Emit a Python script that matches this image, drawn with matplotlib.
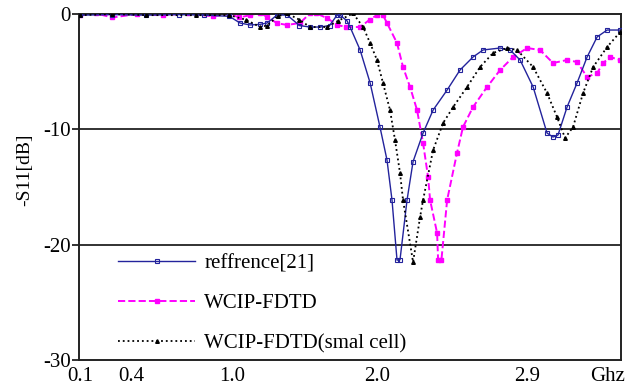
import matplotlib
matplotlib.use("Agg")
import matplotlib.pyplot as plt

plt.rcParams['font.family'] = ['Liberation Serif', 'DejaVu Serif']

# ---- data ----
ref_x = [0.106, 0.30, 0.50, 0.70, 0.85, 1.00, 1.064, 1.124, 1.184, 1.226, 1.286, 1.346,
         1.42, 1.483, 1.543, 1.60, 1.645, 1.663, 1.705, 1.723, 1.783, 1.843, 1.902,
         1.944, 1.974, 2.004, 2.022, 2.064, 2.10, 2.16, 2.22, 2.304, 2.381, 2.459,
         2.519, 2.621, 2.681, 2.741, 2.819, 2.902, 2.938, 2.968, 3.022, 3.082, 3.142,
         3.202, 3.262, 3.34]
ref_y = [-0.1, -0.05, -0.1, -0.05, -0.1, -0.2, -0.78, -0.95, -0.9, -0.78, -0.09, -0.09,
         -1.0, -1.13, -1.13, -1.0, -0.1, -0.1, -0.6, -1.13, -3.12, -5.98, -9.8,
         -12.66, -16.13, -21.34, -21.3, -16.13, -12.8, -10.32, -8.33, -6.59, -4.86, -3.73,
         -3.12, -2.95, -3.12, -3.99, -6.33, -10.32, -10.67, -10.49, -8.07, -5.98, -3.73,
         -1.99, -1.39, -1.39]

wcip_x = [0.106, 0.20, 0.30, 0.45, 0.60, 0.75, 0.90, 1.00, 1.06, 1.124, 1.184, 1.226,
          1.286, 1.346, 1.423, 1.483, 1.52, 1.585, 1.645, 1.70, 1.783, 1.84, 1.884,
          1.92, 1.944, 2.004, 2.04, 2.082, 2.124, 2.16, 2.19, 2.202, 2.244, 2.25, 2.27,
          2.304, 2.363, 2.399, 2.459, 2.543, 2.621, 2.699, 2.783, 2.86, 2.938, 3.022,
          3.082, 3.142, 3.202, 3.238, 3.28, 3.34]
wcip_y = [-0.1, 0.05, -0.3, 0.0, -0.1, 0.05, -0.2, 0.0, -0.3, -0.1, 0.1, -0.26,
          -0.8, -0.95, -0.78, 0.05, 0.05, -0.35, -0.95, -1.13, -1.13, -0.5, -0.09,
          -0.1, -0.78, -2.52, -4.6, -6.33, -8.33, -11.19, -14.14, -16.13, -18.99, -21.34, -21.3,
          -16.13, -12.06, -9.8, -8.07, -6.33, -4.86, -3.73, -2.95, -3.12, -4.25, -3.99,
          -4.16, -5.46, -5.12, -4.25, -3.73, -3.99]

small_x = [0.106, 0.30, 0.50, 0.80, 1.00, 1.10, 1.184, 1.226, 1.29, 1.346, 1.42, 1.483,
           1.585, 1.65, 1.741, 1.801, 1.843, 1.884, 1.92, 1.962, 1.992, 2.022, 2.04,
           2.10, 2.142, 2.16, 2.22, 2.28, 2.34, 2.423, 2.501, 2.579, 2.663, 2.723, 2.819,
           2.902, 2.962, 3.01, 3.058, 3.118, 3.178, 3.262, 3.34]
small_y = [-0.1, 0.0, -0.1, -0.1, -0.1, -0.5, -1.13, -1.0, -0.2, 0.05, -0.5, -1.13,
           -1.13, -0.6, 0.05, -1.13, -2.52, -3.99, -5.98, -8.33, -10.93, -13.79, -16.13,
           -21.51, -17.61, -16.13, -11.8, -9.45, -8.07, -6.33, -4.6, -3.38, -2.95, -3.12, -4.6,
           -6.85, -8.93, -10.75, -9.8, -6.85, -4.6, -2.86, -1.56]

labels = ['reffrence[21]', 'WCIP-FDTD', 'WCIP-FDTD(smal cell)']
xtick_pos = [0.11, 0.411, 1.016, 1.884, 2.783, 3.262]
xtick_labels = ['0.1', '0.4', '1.0', '2.0', '2.9', 'Ghz']
ytick_pos = [0, -10, -20, -30]
ytick_labels = ['0', '-10', '-20', '-30']

fig = plt.figure(figsize=(6.34, 3.86), dpi=100)
ax = fig.add_axes([79/634, 26/386, 542/634, 346/386])

ax.plot(ref_x, ref_y, color='#23239c', lw=1.0, ls='-', marker='s', ms=2.4,
        mfc='none', mec='#23239c', mew=0.8, label=labels[0], zorder=3)
ax.plot(wcip_x, wcip_y, color='#ff00ff', lw=1.4, ls='--', marker='s', ms=3.0,
        mfc='#ff00ff', mec='#ff00ff', label=labels[1], zorder=2)
ax.plot(small_x, small_y, color='black', lw=1.3, ls=':', marker='^', ms=2.6,
        mfc='black', mec='black', label=labels[2], zorder=4)

for yv in [-10, -20]:
    ax.axhline(yv, color='#222222', lw=1.3, zorder=1)

ax.set_xlim(0.1, 3.345)
ax.set_ylim(-30, 0)
ax.set_xticks(xtick_pos)
ax.set_xticklabels(xtick_labels)
ax.set_yticks(ytick_pos)
ax.set_yticklabels(ytick_labels)
ax.tick_params(axis='x', length=0, pad=5, labelsize=15)
ax.tick_params(axis='y', length=5, width=1.3, pad=1, labelsize=15, color='#222222')
for s in ax.spines.values():
    s.set_color('#222222')
    s.set_linewidth(1.4)

ax.set_ylabel('-S11[dB]', fontsize=14)
ax.yaxis.set_label_coords(-0.085, 0.55)

leg = ax.legend(loc='upper left', bbox_to_anchor=(0.072, 0.307), frameon=False,
                fontsize=15, numpoints=1, handlelength=3.7, handletextpad=0.45,
                labelspacing=0.98, borderpad=0, borderaxespad=0)

fig.savefig('out.png', dpi=100)
